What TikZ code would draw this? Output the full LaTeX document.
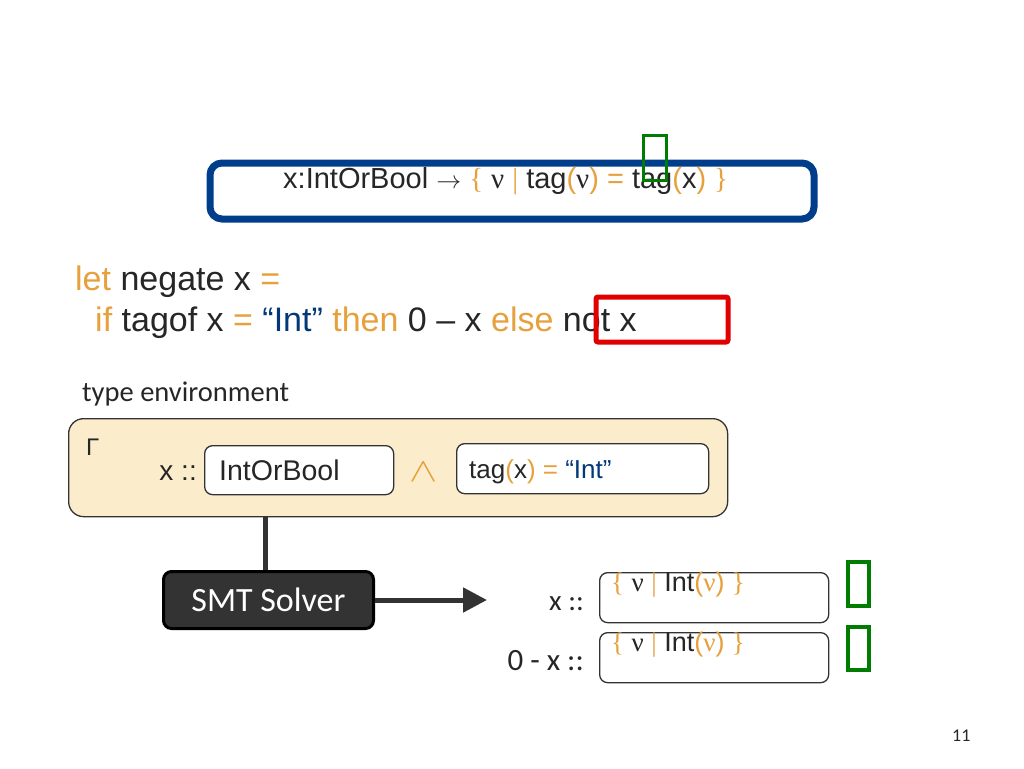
\documentclass[tikz,border=0pt]{standalone}
\usepackage{fontspec}
\setmainfont{Liberation Sans}
\newfontfamily\srf{Liberation Serif}
\newfontfamily\calfont{Carlito}
\usetikzlibrary{arrows.meta}
\definecolor{txt}{RGB}{38,38,38}
\definecolor{orng}{RGB}{230,160,60}
\definecolor{blu}{RGB}{0,56,120}
\definecolor{navy}{RGB}{0,61,138}
\definecolor{redb}{RGB}{224,0,0}
\definecolor{grn}{RGB}{0,125,0}
\definecolor{beige}{RGB}{251,236,204}
\definecolor{dark}{RGB}{51,51,51}
\newcommand{\oc}[1]{{\color{orng}#1}}
\newcommand{\vnu}{{\srf ν}}
\begin{document}
\begin{tikzpicture}[x=1pt,y=-1pt,
  txtnode/.style={anchor=base west,inner sep=0pt,text=txt},
  wbox/.style={draw=dark,line width=1.3pt,fill=white,rounded corners=8pt},
  tofu/.style={draw=grn,line width=3.5pt}]
\useasboundingbox (0,0) rectangle (1024,768);
% top blue box
\draw[navy,line width=7pt,rounded corners=12pt] (210,163) rectangle (814,219);
\node[txtnode,font=\fontsize{29}{34}\selectfont] (sig) at (283,188)
 {x:IntOrBool \ensuremath{\rightarrow} \oc{\srf\{} \vnu\ \oc{\srf|} tag\oc{(}\vnu\oc{)} \oc{=} tag\oc{(}x\oc{)} \oc{\srf\}}};
\draw[tofu,line width=3pt] (643,135) rectangle (666,180);
% code
\node[txtnode,font=\fontsize{34}{40}\selectfont] (l1) at (75,290) {\oc{let} negate x \oc{=}};
\node[txtnode,font=\fontsize{34}{40}\selectfont] (l2) at (95,331)
 {\oc{if} tagof x \oc{=} {\color{blu}“Int”} \oc{then} 0 – x \oc{else} not x};
\draw[redb,line width=5pt,rounded corners=2pt] (596,297) rectangle (728,342);
% type environment
\node[txtnode,font=\calfont\fontsize{28.5}{32}\selectfont] (te) at (82,401) {type environment};
\node[draw=dark,line width=1.3pt,fill=beige,rounded corners=15pt,minimum width=659pt,minimum height=98pt,anchor=north west] (env) at (68,418) {};
\node[txtnode,font=\fontsize{24}{28}\selectfont] (gam) at (86,455) {Γ};
\node[txtnode,font=\fontsize{28}{30}\selectfont,anchor=base east] (xc) at (197,480) {x ::};
\node[wbox,minimum width=189pt,minimum height=49pt,anchor=north west] (iob) at (204,445) {};
\node[txtnode,font=\fontsize{28.5}{30}\selectfont] (iobt) at (219,480) {IntOrBool};
\node[txtnode,font=\fontsize{26}{30}\selectfont,text=orng,xscale=1.7,yscale=1.35] (and) at (409,481) {\ensuremath{\wedge}};
\node[wbox,minimum width=252pt,minimum height=50pt,anchor=north west] (tagb) at (456,443) {};
\node[txtnode,font=\fontsize{26}{30}\selectfont] (tagt) at (469,478) {tag\oc{(}x\oc{)} \oc{=} {\color{blu}“Int”}};
% SMT solver
\node[draw=black,line width=3pt,fill=dark,rounded corners=8pt,minimum width=210pt,minimum height=57pt,anchor=north west,text=white,font=\calfont\fontsize{34}{38}\selectfont] (smt) at (162,570) {SMT Solver};
\draw[dark,line width=5pt] ([xshift=-3pt]smt.north) -- ([xshift=-3pt]smt.north |- env.south);
\coordinate (aend) at (487,600);
\draw[dark,line width=5pt,-{Triangle[length=24pt,width=24pt]}] (smt.east |- aend) -- (aend);
% results
\node[txtnode,font=\calfont\fontsize{29}{32}\selectfont,anchor=base east] (r1l) at (584,610) {x ::};
\node[wbox,minimum width=229pt,minimum height=50pt,anchor=north west] (r1) at (599,572) {};
\node[txtnode,font=\fontsize{27}{30}\selectfont] (r1t) at (611,591) {\oc{\srf\{} \vnu\ \oc{\srf|} Int\oc{(\vnu)} \oc{\srf\}}};
\node[txtnode,font=\calfont\fontsize{31}{34}\selectfont,anchor=base east] (r2l) at (584,670) {0 - x ::};
\node[wbox,minimum width=229pt,minimum height=50pt,anchor=north west] (r2) at (599,632) {};
\node[txtnode,font=\fontsize{27}{30}\selectfont] (r2t) at (611,651) {\oc{\srf\{} \vnu\ \oc{\srf|} Int\oc{(\vnu)} \oc{\srf\}}};
\draw[tofu] (848,562) rectangle (869,606);
\draw[tofu] (848,627) rectangle (869,670);
\node[txtnode,font=\calfont\fontsize{18}{22}\selectfont] (pg) at (952,741) {11};
\end{tikzpicture}
\end{document}
